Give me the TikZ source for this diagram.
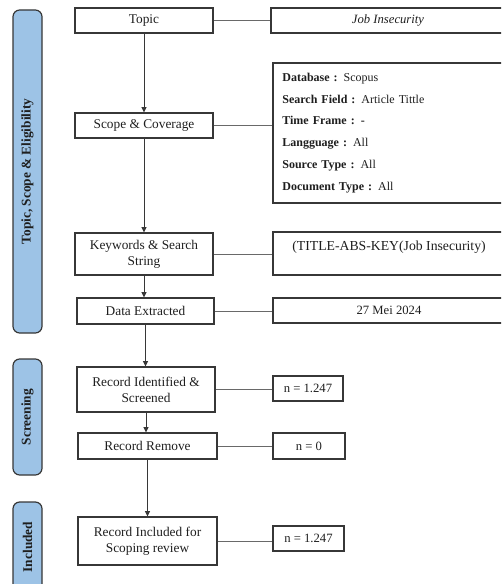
\documentclass[tikz,border=0pt]{standalone}
\usepackage{fontspec}
\setmainfont{Liberation Serif}
\definecolor{stageblue}{RGB}{157, 195, 230}
\definecolor{boxline}{RGB}{55, 55, 55}
\definecolor{linkgray}{RGB}{105, 105, 105}
\definecolor{inktext}{RGB}{30, 30, 30}
\usetikzlibrary{arrows.meta, positioning}

\begin{document}
\begin{tikzpicture}[x=0.75pt, y=-0.75pt,
  stage/.style={draw=boxline, line width=0.9pt, fill=stageblue, rounded corners=5pt, rotate=90,
    minimum height=21.75pt, inner sep=0pt, font=\fontsize{10}{12}\selectfont\bfseries, text=inktext},
  stepbox/.style={draw=boxline, line width=0.8pt, inner sep=0pt, align=center,
    font=\fontsize{10}{12}\selectfont, text=inktext},
  nbox/.style={stepbox, font=\fontsize{9.5}{11}\selectfont},
  link/.style={draw=linkgray, line width=0.7pt},
  flow/.style={draw=boxline, line width=0.7pt, -{Triangle[length=4pt, width=3.8pt]}}
]
  \clip (0,0) rectangle (501,584);

  % Stages
  \node[stage, minimum width=242.25pt] (stage1) at (27.5, 171.5) {Topic, Scope \& Eligibility};
  \node[stage, minimum width=87pt] (stage2) at (27.5, 417) {Screening};
  \node[stage, minimum width=67.5pt] (stage3) at (27.5, 547) {Included};

  % Steps
  \node[stepbox, minimum width=103.5pt, minimum height=18.75pt] (topic) at (144, 20.5) {Topic};
  \node[stepbox, minimum width=103.5pt, minimum height=18.75pt] (scope) at (144, 125.5) {Scope \& Coverage};
  \node[stepbox, minimum width=103.5pt, minimum height=31.5pt] (keywords) at (144, 254) {Keywords \& Search\\String};
  \node[stepbox, minimum width=102.75pt, minimum height=19.5pt] (data) at (145.5, 311) {Data Extracted};
  \node[stepbox, minimum width=103.5pt, minimum height=33.75pt] (ident) at (146, 389.5) {Record Identified \&\\Screened};
  \node[stepbox, minimum width=104.25pt, minimum height=19.5pt] (remove) at (147.5, 446) {Record Remove};
  \node[stepbox, minimum width=104.25pt, minimum height=36pt] (incl) at (147.5, 541) {Record Included for\\Scoping review};

  % Details
  \node[stepbox, minimum width=175.5pt, minimum height=18.75pt, font=\fontsize{9.5}{11}\selectfont] (job) at (388, 20.5) {\itshape Job Insecurity};
  \node[stepbox, minimum width=174pt, minimum height=105pt, align=left, text width=160pt, inner xsep=6.75pt,
    font=\fontsize{9}{16.4}\selectfont] (dbase) at (389, 133) {%
    \textbf{Database :} Scopus\\
    \textbf{Search Field :} Article Tittle\\
    \textbf{Time Frame : -}\\
    \textbf{Langguage :} All\\
    \textbf{Source Type :} All\\
    \textbf{Document Type :} All};
  \node[stepbox, minimum width=174pt, minimum height=32.25pt, font=\fontsize{10.3}{12}\selectfont] (title) at (389, 253.5) {(TITLE-ABS-KEY(Job Insecurity)\\\mbox{}};
  \node[stepbox, minimum width=174pt, minimum height=18.75pt, font=\fontsize{9.5}{11}\selectfont] (date) at (389, 310.5) {27 Mei 2024};
  \node[nbox, minimum width=52.5pt, minimum height=18.75pt] (n1) at (308, 388.5) {n = 1.247};
  \node[nbox, minimum width=54pt, minimum height=19.5pt] (n0) at (309, 446) {n = 0};
  \node[nbox, minimum width=53.25pt, minimum height=18.75pt] (n2) at (308.5, 538.5) {n = 1.247};

  % Flow
  \draw[flow] (topic.south) -- (topic.south |- scope.north);
  \draw[flow] (scope.south) -- (scope.south |- keywords.north);
  \draw[flow] (keywords.south) -- (keywords.south |- data.north);
  \draw[flow] (data.south) -- (data.south |- ident.north);
  \draw[flow] (ident.south) -- (ident.south |- remove.north);
  \draw[flow] (remove.south) -- (remove.south |- incl.north);

  % Links
  \draw[link] (topic.east) -- (topic.east -| job.west);
  \draw[link] (scope.east) -- (scope.east -| dbase.west);
  \draw[link] (keywords.east) -- (keywords.east -| title.west);
  \draw[link] (data.east) -- (data.east -| date.west);
  \draw[link] (ident.east) -- (ident.east -| n1.west);
  \draw[link] (remove.east) -- (remove.east -| n0.west);
  \draw[link] (incl.east) -- (incl.east -| n2.west);
\end{tikzpicture}
\end{document}
